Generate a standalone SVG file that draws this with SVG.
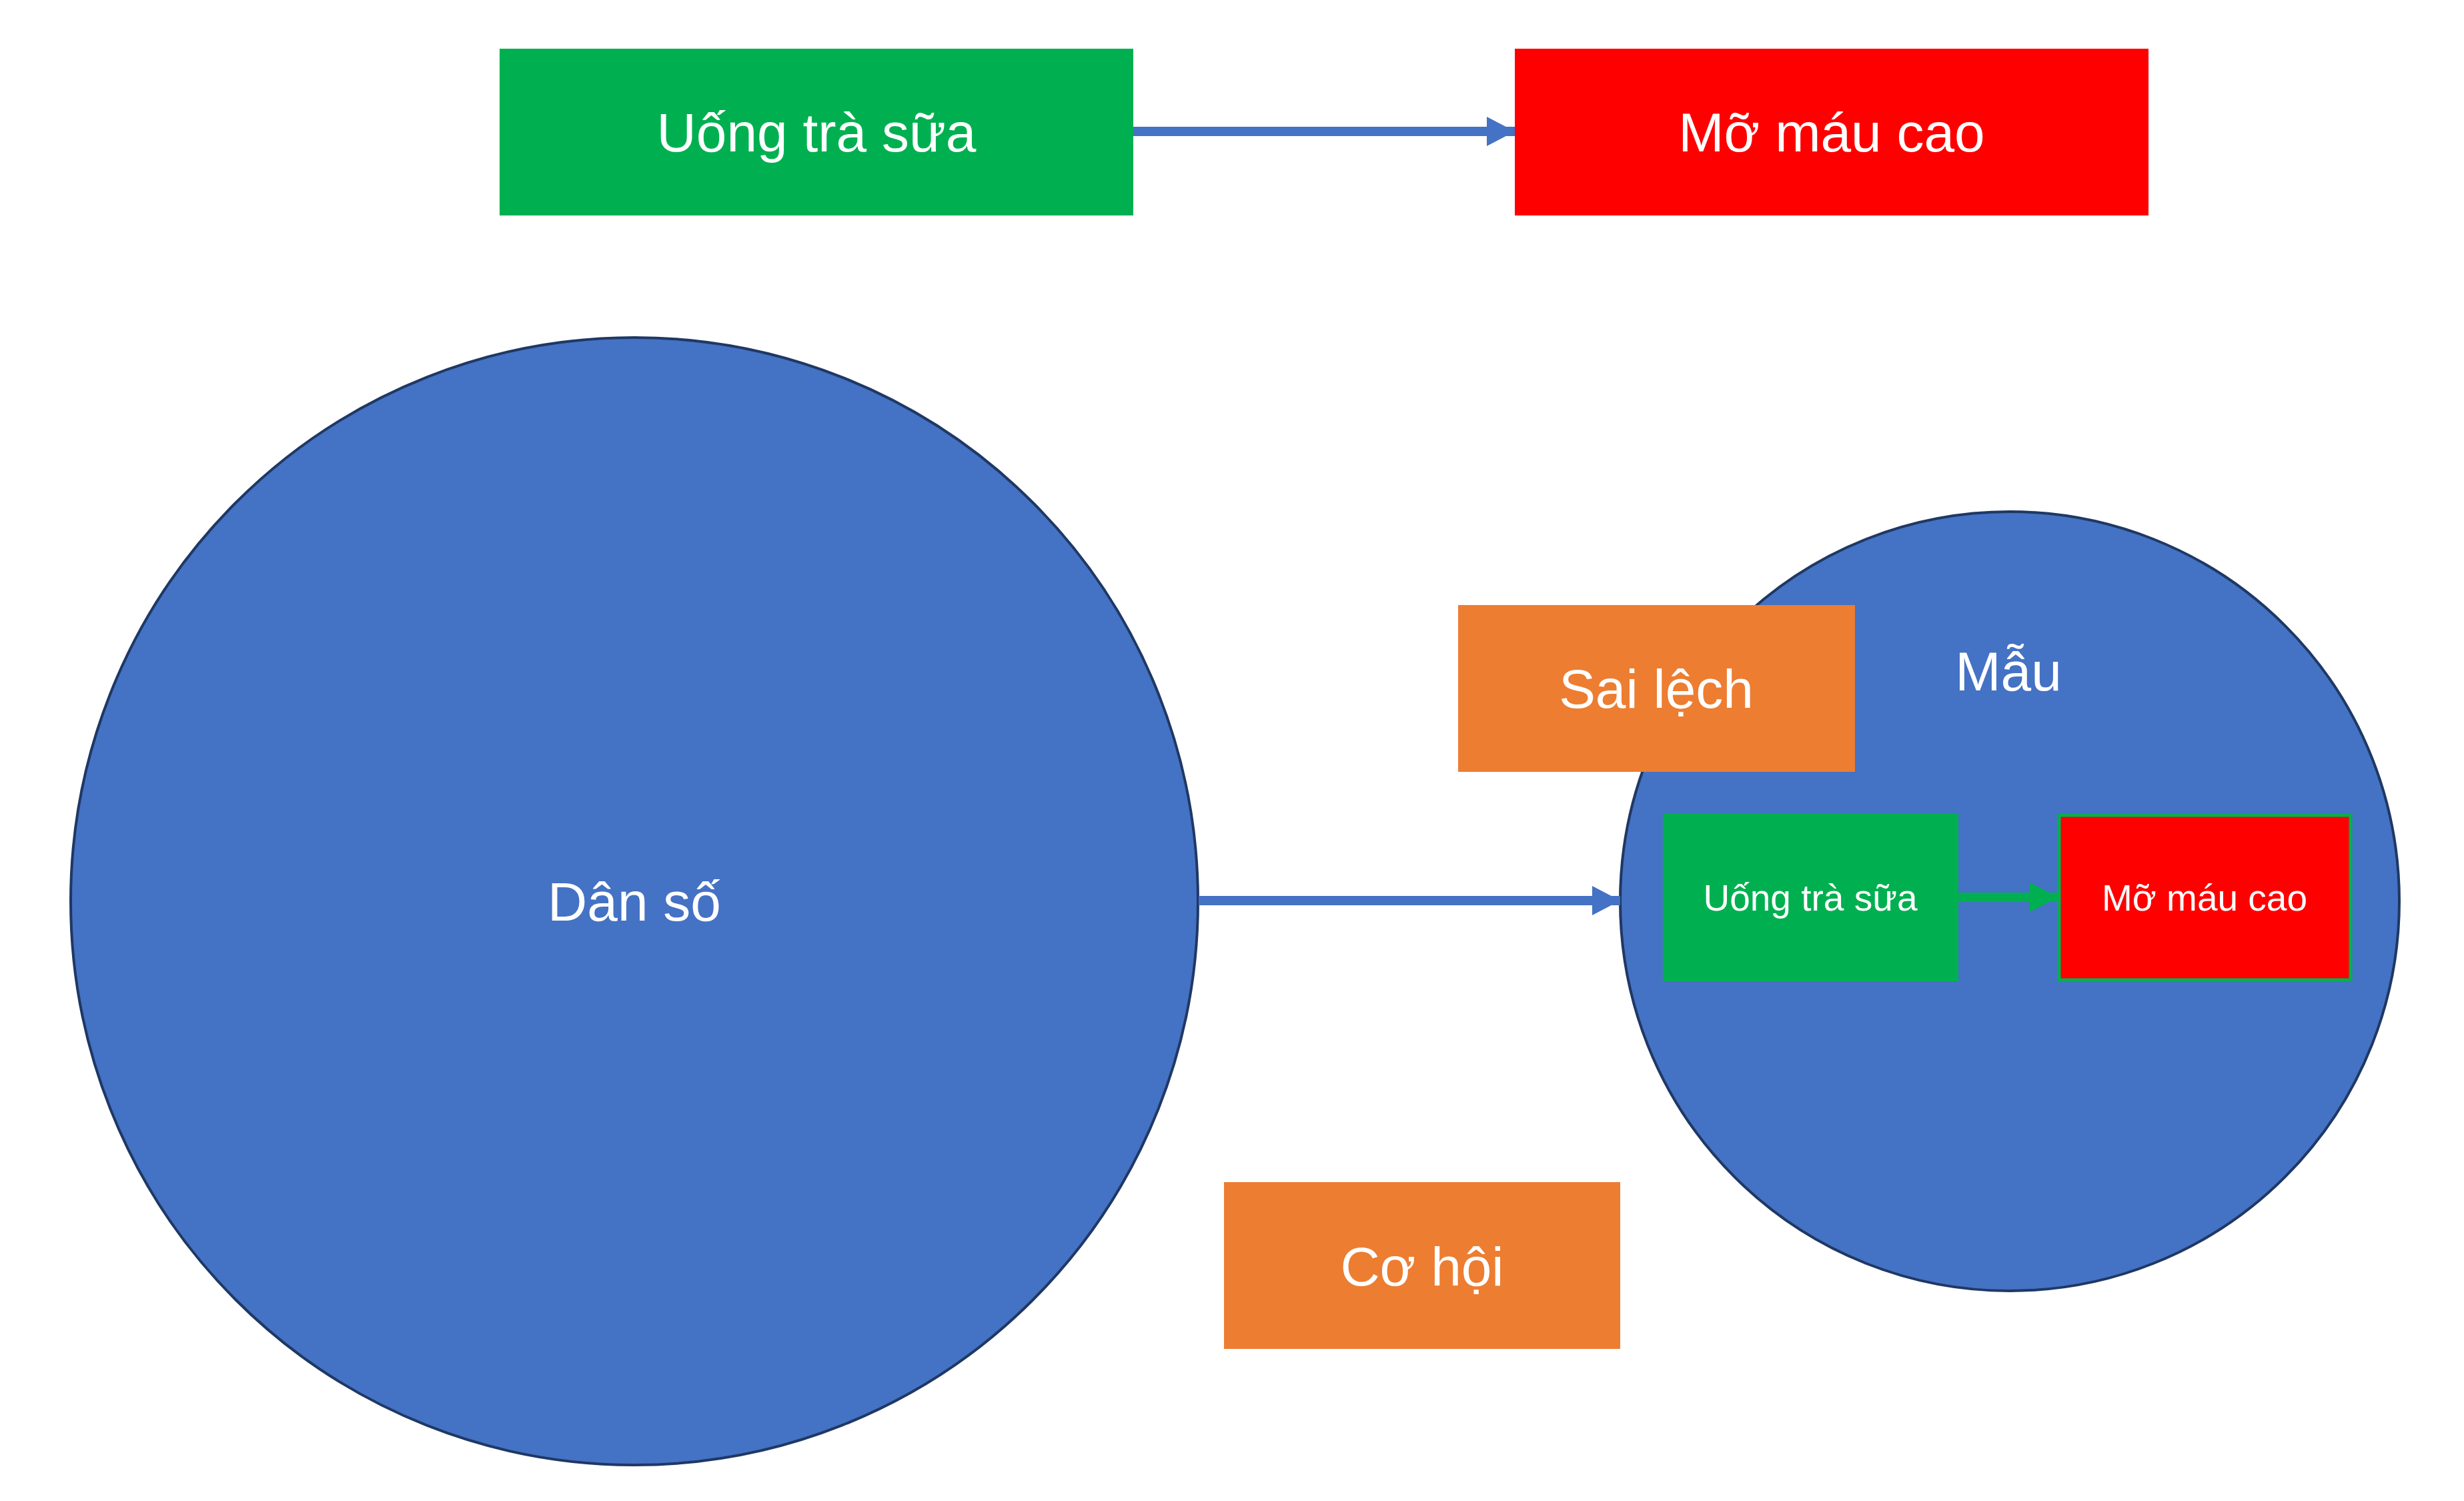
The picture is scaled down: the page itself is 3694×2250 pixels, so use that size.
<svg xmlns="http://www.w3.org/2000/svg" width="3694" height="2250" viewBox="0 0 3694 2250">
<style>
text{font-family:"Liberation Sans",Arial,sans-serif;fill:#FFFFFF;text-anchor:middle}
.big{font-size:82px}
.small{font-size:55px}
.circ{fill:#4472C4;stroke:#1F3864;stroke-width:4}
.green{fill:#00B050}
.red{fill:#FF0000}
.orange{fill:#ED7D31}
.blue{stroke:#4472C4;stroke-width:14;fill:none}
.gline{stroke:#00B050;stroke-width:14;fill:none}
</style>
<defs>
<marker id="ab" markerUnits="userSpaceOnUse" markerWidth="44" markerHeight="44" refX="42" refY="22" orient="auto">
<path d="M0,0 L42,22 L0,44 Z" fill="#4472C4"/>
</marker>
<marker id="ag" markerUnits="userSpaceOnUse" markerWidth="44" markerHeight="44" refX="42" refY="22" orient="auto">
<path d="M0,0 L42,22 L0,44 Z" fill="#00B050"/>
</marker>
</defs>
<rect width="3694" height="2250" fill="#FFFFFF"/>
<g id="top-tra-sua">
<rect class="green" x="749" y="73" width="950" height="250"/>
<text class="big" x="1224" y="227">Uống trà sữa</text>
</g>
<g id="top-mo-mau">
<rect class="red" x="2271" y="73" width="950" height="250"/>
<text class="big" x="2746" y="227">Mỡ máu cao</text>
</g>
<g id="dan-so">
<circle class="circ" cx="951" cy="1351" r="845"/>
<text class="big" x="951" y="1380">Dân số</text>
</g>
<g id="mau">
<circle class="circ" cx="3013" cy="1351" r="584"/>
<text class="big" x="3011" y="1035">Mẫu</text>
</g>
<g id="sai-lech">
<rect class="orange" x="2186" y="907" width="595" height="250"/>
<text class="big" x="2483" y="1061">Sai lệch</text>
</g>
<g id="co-hoi">
<rect class="orange" x="1835" y="1772" width="594" height="250"/>
<text class="big" x="2132" y="1927">Cơ hội</text>
</g>
<g id="inner-tra-sua">
<rect class="green" x="2493" y="1220" width="443" height="251"/>
<text class="small" x="2714" y="1365">Uống trà sữa</text>
</g>
<g id="inner-mo-mau">
<rect class="red" x="3087" y="1222" width="437" height="247" stroke="#00B050" stroke-width="5"/>
<text class="small" x="3305" y="1365">Mỡ máu cao</text>
</g>
<g id="connectors">
<line class="blue" x1="1699" y1="197" x2="2271" y2="197" marker-end="url(#ab)"/>
<line class="blue" x1="1797" y1="1350" x2="2429" y2="1350" marker-end="url(#ab)"/>
<line class="gline" x1="2936" y1="1345" x2="3085" y2="1345" marker-end="url(#ag)"/>
</g>
</svg>
